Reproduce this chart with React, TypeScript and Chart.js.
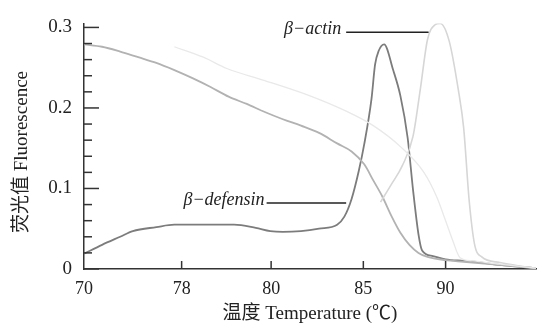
import React, { useEffect, useRef } from "react";
import { Chart, registerables } from "chart.js";

Chart.register(...registerables);

// ---- Data ----
// β-defensin raw fluorescence (descending curve)
const defRawT = [70, 71, 72, 73, 74, 75, 76, 77, 78, 79, 80, 81, 82, 83, 84, 84.8, 85.5, 86, 86.5, 87, 87.5, 88, 88.5, 89, 90, 91, 92, 93, 94, 95];
const defRawV = [0.279, 0.276, 0.27, 0.263, 0.256, 0.247, 0.237, 0.226, 0.214, 0.205, 0.195, 0.186, 0.178, 0.169, 0.156, 0.146, 0.13, 0.11, 0.09, 0.066, 0.045, 0.03, 0.02, 0.015, 0.011, 0.009, 0.007, 0.005, 0.003, 0.001];

// β-defensin melting peak
const defPeakT = [70, 71, 72, 72.7, 74, 75, 76, 77, 78.3, 79.5, 80.3, 81, 82, 83, 84, 84.4, 84.8, 85.2, 85.5, 85.9, 86.1, 86.3, 86.6, 87.1, 87.5, 87.9, 88.2, 88.5, 88.7, 89.3, 90, 91, 92, 93, 94, 95];
const defPeakV = [0.019, 0.03, 0.04, 0.047, 0.052, 0.055, 0.055, 0.055, 0.055, 0.051, 0.047, 0.046, 0.047, 0.05, 0.055, 0.065, 0.087, 0.122, 0.155, 0.211, 0.254, 0.271, 0.279, 0.247, 0.215, 0.163, 0.098, 0.043, 0.023, 0.016, 0.012, 0.01, 0.008, 0.005, 0.003, 0.001];

// β-actin melting peak (faint)
const actPeakT = [86.4, 87, 87.6, 88.2, 88.6, 89, 89.4, 89.7, 90.2, 90.7, 91, 91.3, 91.6, 92, 93, 94, 95];
const actPeakV = [0.083, 0.105, 0.128, 0.165, 0.223, 0.285, 0.303, 0.305, 0.283, 0.223, 0.175, 0.086, 0.031, 0.015, 0.008, 0.004, 0.001];

// β-actin raw fluorescence (very faint)
const actRawT = [75, 76.6, 77.9, 80, 82.5, 84.5, 86, 87.5, 88.8, 89.5, 90, 90.4, 90.8, 91.5, 93, 95];
const actRawV = [0.276, 0.263, 0.249, 0.234, 0.215, 0.196, 0.178, 0.152, 0.12, 0.09, 0.06, 0.035, 0.014, 0.01, 0.006, 0.001];

// Axis ticks (positions where the printed labels sit on the axis)
const xTickValues = [70, 75.4, 80.35, 85.45, 90];
const xTickLabels = ["70", "78", "80", "85", "90"];
const yTickValues = [0, 0.1, 0.2, 0.3];
const yTickLabels = ["0", "0.1", "0.2", "0.3"];
const yMinorTicks = [0.02, 0.04, 0.06, 0.08, 0.12, 0.14, 0.16, 0.18, 0.22, 0.24, 0.26, 0.28];

// Annotations (label, line start x, line end x, line y)
const annoLabels = ["β−defensin", "β−actin"];
const annoX0 = [80.1, 84.5];
const annoX1 = [84.5, 89.06];
const annoY = [0.082, 0.294];

const xTitle = "温度 Temperature (℃)";
const yTitle = "荧光值 Fluorescence";

const SERIF = "'Liberation Serif', 'Noto Sans CJK SC', serif";

const pts = (t: number[], v: number[]) => t.map((x, i) => ({ x, y: v[i] }));

const decorPlugin = {
  id: "decor",
  afterDraw(chart: any) {
    const { ctx, scales, chartArea } = chart;
    const xs = scales.x;
    const ys = scales.y;
    ctx.save();
    ctx.strokeStyle = "#333";
    ctx.lineWidth = 1.5;
    const x0 = chartArea.left;
    yTickValues.forEach((v) => {
      const py = ys.getPixelForValue(v);
      ctx.beginPath();
      ctx.moveTo(x0, py);
      ctx.lineTo(x0 + 15, py);
      ctx.stroke();
    });
    yMinorTicks.forEach((v) => {
      const py = ys.getPixelForValue(v);
      ctx.beginPath();
      ctx.moveTo(x0, py);
      ctx.lineTo(x0 + 8, py);
      ctx.stroke();
    });
    const yb = chartArea.bottom;
    xTickValues.forEach((v, i) => {
      if (i === 0) return;
      const px = xs.getPixelForValue(v);
      ctx.beginPath();
      ctx.moveTo(px, yb);
      ctx.lineTo(px, yb - 8);
      ctx.stroke();
    });
    // annotations
    ctx.lineWidth = 1.5;
    ctx.strokeStyle = "#222";
    ctx.fillStyle = "#222";
    ctx.font = `italic 18px ${SERIF}`;
    ctx.textAlign = "right";
    ctx.textBaseline = "middle";
    annoLabels.forEach((lab, i) => {
      const ax0 = xs.getPixelForValue(annoX0[i]);
      const ax1 = xs.getPixelForValue(annoX1[i]);
      const ay = ys.getPixelForValue(annoY[i]);
      ctx.beginPath();
      ctx.moveTo(ax0, ay);
      ctx.lineTo(ax1, ay);
      ctx.stroke();
      ctx.fillText(lab, ax0 - (i === 1 ? 5 : 2), ay - 3);
    });
    // axis titles
    ctx.font = `19px ${SERIF}`;
    ctx.textAlign = "center";
    ctx.textBaseline = "middle";
    ctx.fillText(xTitle, (chartArea.left + chartArea.right) / 2, 314);
    ctx.translate(22, 152);
    ctx.rotate(-Math.PI / 2);
    ctx.fillText(yTitle, 0, 0);
    ctx.restore();
  },
};

export default function App() {
  const ref = useRef<HTMLCanvasElement>(null);
  useEffect(() => {
    document.body.style.margin = "0";
    const chart = new Chart(ref.current as HTMLCanvasElement, {
      type: "line",
      data: {
        datasets: [
          { data: pts(actRawT, actRawV), borderColor: "#e9e9e9", borderWidth: 1.3 },
          { data: pts(actPeakT, actPeakV), borderColor: "#d6d6d6", borderWidth: 1.6 },
          { data: pts(defRawT, defRawV), borderColor: "#b2b2b2", borderWidth: 1.8 },
          { data: pts(defPeakT, defPeakV), borderColor: "#7c7c7c", borderWidth: 1.8 },
        ].map((d) => ({ ...d, pointRadius: 0, fill: false, cubicInterpolationMode: "monotone" })) as any,
      },
      options: {
        responsive: false,
        animation: false,
        devicePixelRatio: 1,
        layout: { padding: { left: 0, top: 15, right: 3, bottom: 0 } },
        plugins: { legend: { display: false }, tooltip: { enabled: false } },
        scales: {
          x: {
            type: "linear",
            min: 70,
            max: 95,
            afterBuildTicks: (s: any) => {
              s.ticks = xTickValues.map((value) => ({ value }));
            },
            afterFit: (s: any) => {
              s.height = 56;
            },
            grid: { display: false, drawTicks: false },
            border: { display: true, color: "#333", width: 1.5 },
            ticks: {
              autoSkip: false,
              maxRotation: 0,
              padding: 9,
              color: "#222",
              font: { family: SERIF, size: 18 },
              callback: (v: any) => xTickLabels[xTickValues.indexOf(Number(v))] ?? "",
            },
          },
          y: {
            type: "linear",
            min: 0,
            max: 0.305,
            afterBuildTicks: (s: any) => {
              s.ticks = yTickValues.map((value) => ({ value }));
            },
            afterFit: (s: any) => {
              s.width = 84;
            },
            grid: { display: false, drawTicks: false },
            border: { display: true, color: "#333", width: 1.5 },
            ticks: {
              padding: 12,
              color: "#222",
              font: { family: SERIF, size: 19 },
              callback: (v: any) => yTickLabels[yTickValues.indexOf(Number(v))] ?? "",
            },
          },
        },
      },
      plugins: [decorPlugin],
    } as any);
    return () => chart.destroy();
  }, []);
  return (
    <div style={{ position: "fixed", left: 0, top: 0, width: 539, height: 325, background: "#fff" }}>
      <canvas ref={ref} width={539} height={325} />
    </div>
  );
}
